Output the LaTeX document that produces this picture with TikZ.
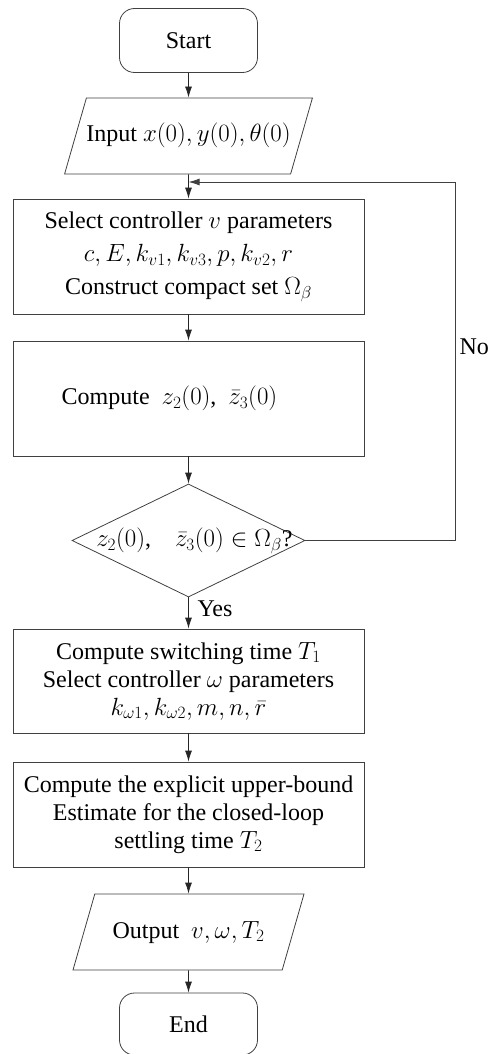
\documentclass[tikz,border=0pt]{standalone}
\usepackage[no-math]{fontspec}
\setmainfont{Liberation Serif}
\usetikzlibrary{shapes.geometric, arrows.meta}

\begin{document}
\begin{tikzpicture}[
    x=1pt, y=-1pt,
    font=\fontsize{24}{28}\selectfont,
    term box/.style={draw=black!75, line width=0.8pt, rounded corners=15pt, minimum width=138pt, minimum height=64pt, inner sep=0pt},
    io box/.style={draw=black!75, line width=0.8pt, trapezium, trapezium left angle=74, trapezium right angle=106, trapezium stretches body, minimum width=231pt, text height=18pt, text depth=6pt, inner xsep=0pt, inner ysep=26pt},
    proc box/.style={draw=black!75, line width=0.8pt, rectangle, minimum width=351pt, inner sep=0pt, align=center},
    test box/.style={draw=black!75, line width=0.8pt, diamond, minimum width=233pt, minimum height=113pt, inner sep=0pt},
    flow/.style={line width=0.8pt, black!85, -{Latex[length=11pt, width=7pt]}},
    loop line/.style={line width=0.8pt, black!75, -{Latex[length=11pt, width=7pt]}}
]

% 0. Marco de la figura (recorta "End" y "No" como en el original)
\path[use as bounding box, clip] (0,0) rectangle (488,1054);

% 1. Nodos del diagrama de flujo
\node[term box] (start) at (188.5,40.5) {Start};
\node[io box] (input) at (188.5,136) {Input $x(0),y(0),\theta(0)$};
\node[proc box, minimum height=115pt, font=\fontsize{24}{33}\selectfont] (sel v) at (188.5,256.5) {Select controller $v$ parameters\\
    $c,E,k_{v1},k_{v3},p,k_{v2},r$\\
    Construct compact set $\Omega_\beta$};
\node[proc box, minimum height=115pt] (comp z) at (188.5,398.5) {Compute\ \ $z_2(0)$,\ \ $\bar{z}_3(0)$\hspace*{38pt}};
\node[test box] (test) at (188.5,540.5) {\makebox[0pt]{\hspace*{12pt}$z_2(0)$,\quad$\bar{z}_3(0)\in\Omega_\beta$?}};
\node[proc box, minimum height=104pt] (sel w) at (188.5,681) {Compute switching time $T_1$\\
    Select controller $\omega$ parameters\\
    $k_{\omega1},k_{\omega2},m,n,\bar{r}$};
\node[proc box, minimum height=105pt] (bound) at (188.5,814.5) {Compute the explicit upper-bound\\
    Estimate for the closed-loop\\
    settling time $T_2$};
\node[io box] (output) at (188.5,932) {Output\ \ $v,\omega,T_2$};
\node[term box, minimum height=62pt] (end) at (188.5,1024) {End};

% 2. Etiquetas de las ramas
\node[anchor=west] (yes) at (194,609) {Yes};
\node[anchor=west] (no) at (456,347) {No};

% 3. Conectores
\coordinate (merge) at (188.5,182);
\coordinate (corner) at (455,182);

\draw[flow] (start) -- (input);
\draw[flow] (input) -- (sel v);
\draw[flow] (sel v) -- (comp z);
\draw[flow] (comp z) -- (test);
\draw[flow] (test) -- (sel w);
\draw[flow] (sel w) -- (bound);
\draw[flow] (bound) -- (output);
\draw[flow] (output) -- (end);

% Lazo de retorno ("No")
\draw[loop line] (test.east) -| (corner) -- (merge);

\end{tikzpicture}
\end{document}
